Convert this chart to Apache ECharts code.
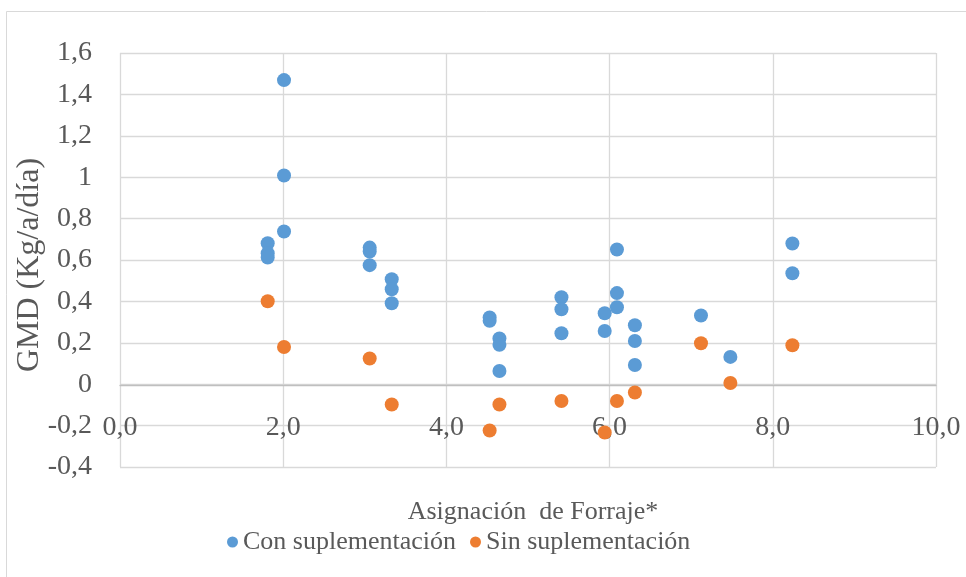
<!DOCTYPE html>
<html>
<head>
<meta charset="utf-8">
<script src="https://cdn.jsdelivr.net/npm/echarts@6/dist/echarts.min.js"></script>
<style>
html,body{margin:0;padding:0;background:#fff;}
#chart{width:966px;height:577px;}
</style>
</head>
<body>
<div id="chart"></div>
<script>
// Data
const conX = [1.81, 1.81, 1.81, 2.01, 2.01, 2.01, 3.06, 3.06, 3.06, 3.33, 3.33, 3.33, 4.53, 4.53, 4.65, 4.65, 4.65, 5.41, 5.41, 5.41, 5.94, 5.94, 6.09, 6.09, 6.09, 6.31, 6.31, 6.31, 7.12, 7.48, 8.24, 8.24];
const conY = [0.681, 0.633, 0.612, 1.469, 1.008, 0.738, 0.660, 0.641, 0.575, 0.507, 0.459, 0.391, 0.322, 0.306, 0.221, 0.190, 0.064, 0.420, 0.362, 0.246, 0.343, 0.257, 0.651, 0.440, 0.372, 0.285, 0.209, 0.093, 0.332, 0.132, 0.680, 0.536];
const sinX = [1.81, 2.01, 3.06, 3.33, 4.53, 4.65, 5.41, 5.94, 6.09, 6.31, 7.12, 7.48, 8.24];
const sinY = [0.401, 0.180, 0.124, -0.098, -0.224, -0.098, -0.081, -0.233, -0.081, -0.040, 0.198, 0.006, 0.188];
const seriesNames = ['Con suplementación', 'Sin suplementación'];
const xTitle = 'Asignación  de Forraje*';
const yTitle = 'GMD (Kg/a/día)';

const pair = (xs, ys) => xs.map((x, i) => [x, ys[i]]);
const FONT = '"Liberation Serif", "Times New Roman", serif';
const TXT = '#595959';

const chart = echarts.init(document.getElementById('chart'));
chart.setOption({
  animation: false,
  backgroundColor: '#fff',
  textStyle: { fontFamily: FONT },
  graphic: [{
    type: 'rect',
    shape: { x: 6.5, y: 11.5, width: 1000, height: 1000 },
    style: { fill: 'none', stroke: '#d9d9d9', lineWidth: 1 },
    silent: true
  }],
  title: {
    text: xTitle,
    left: 528, top: 494,
    textAlign: 'center',
    textStyle: { fontFamily: FONT, fontSize: 26, fontWeight: 'normal', color: TXT }
  },
  legend: {
    data: seriesNames,
    left: 222, top: 524,
    icon: 'circle',
    itemWidth: 11, itemHeight: 11,
    itemGap: 14,
    textStyle: { fontFamily: FONT, fontSize: 26, color: TXT }
  },
  grid: { left: 120, right: 30, top: 53, bottom: 110, containLabel: false, outerBoundsMode: 'none' },
  xAxis: {
    type: 'value', min: 0, max: 10, interval: 2,
    position: 'bottom',
    offset: -82,
    axisLine: { onZero: false, lineStyle: { color: '#bfbfbf', width: 1.3 } },
    axisTick: { show: false },
    splitLine: { lineStyle: { color: '#d9d9d9', width: 1.3 } },
    axisLabel: {
      margin: 29, fontFamily: FONT, fontSize: 28, color: TXT,
      formatter: v => v.toFixed(1).replace('.', ',')
    }
  },
  yAxis: {
    type: 'value', min: -0.4, max: 1.6, interval: 0.2,
    name: yTitle, nameLocation: 'middle', nameGap: 74, nameRotate: 90,
    nameMoveOverlap: false,
    nameTextStyle: { fontFamily: FONT, fontSize: 32, color: TXT, padding: [0, 10, 0, 0] },
    axisLine: { show: false },
    axisTick: { show: false },
    splitLine: { lineStyle: { color: '#d9d9d9', width: 1.3 } },
    axisLabel: {
      margin: 28, fontFamily: FONT, fontSize: 28, color: TXT,
      formatter: v => String(Math.round(v * 10) / 10).replace('.', ',')
    }
  },
  series: [
    { name: seriesNames[0], type: 'scatter', symbolSize: 14, itemStyle: { color: '#5b9bd5', opacity: 1 }, data: pair(conX, conY) },
    { name: seriesNames[1], type: 'scatter', symbolSize: 14, itemStyle: { color: '#ed7d31', opacity: 1 }, data: pair(sinX, sinY) }
  ]
});
</script>
</body>
</html>
